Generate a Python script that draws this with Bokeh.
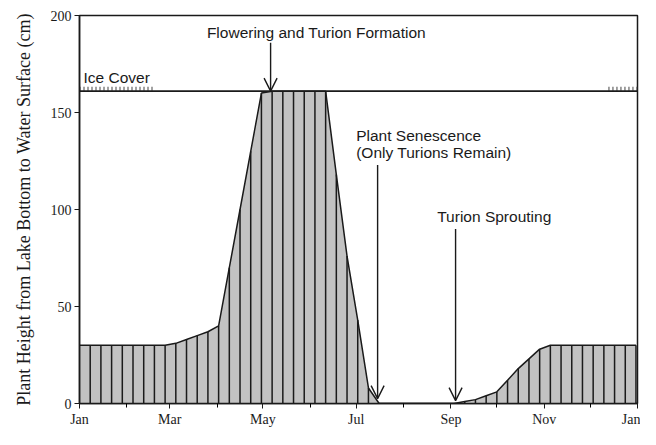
from bokeh.plotting import figure
from bokeh.models import FixedTicker, Span, Arrow, OpenHead, Label, ColumnDataSource
from bokeh.embed import file_html
from bokeh.resources import INLINE

# --- data (day of year, weekly samples) ---
days = [0, 7, 14, 21, 28, 35, 42, 49, 56, 63, 70, 77, 84, 91, 98, 105, 112, 119,
        126, 133, 140, 147, 154, 161, 168, 175, 182, 189, 196, 203, 210, 217, 224,
        231, 238, 245, 252, 259, 266, 273, 280, 287, 294, 301, 308, 315, 322, 329,
        336, 343, 350, 357, 364]
height_cm = [30, 30, 30, 30, 30, 30, 30, 30, 30, 31, 33, 35, 37, 40, 70, 100, 130, 160,
             161, 161, 161, 161, 161, 161, 118, 76, 43, 8, 0, 0, 0, 0, 0,
             0, 0, 0, 1, 2, 4, 6, 12, 18, 23, 28, 30, 30, 30, 30,
             30, 30, 30, 30, 30]

month_ticks = [0, 59, 120, 181, 243, 304, 365]
month_labels = ["Jan", "Mar", "May", "Jul", "Sep", "Nov", "Jan"]
minor_month_ticks = [31, 90, 151, 212, 273, 334]
y_ticks = [0, 50, 100, 150, 200]

ice_level = 161
ice_periods = [(0, 49), (346, 365)]

events = ["Flowering and Turion Formation", "Plant Senescence\n(Only Turions Remain)", "Turion Sprouting"]
event_day = [125, 195, 246]
arrow_top = [186, 123, 90]
arrow_bottom = [161, 2.5, 1.5]

p = figure(width=640, height=429, output_backend="svg", toolbar_location=None,
           x_range=(0, 365), y_range=(0, 200),
           min_border_left=79, min_border_right=3, min_border_top=15, min_border_bottom=22)

p.xgrid.visible = False
p.ygrid.visible = False
p.outline_line_color = "#1a1a1a"
p.outline_line_width = 1.5
p.background_fill_color = "white"

src = ColumnDataSource(dict(x=days, y=height_cm, y0=[0] * len(days)))
p.varea(x="x", y1="y0", y2="y", source=src, fill_color="#c2c2c2")
p.segment(x0="x", y0="y0", x1="x", y1="y", source=src, line_color="#1a1a1a", line_width=1.5)
p.line(x="x", y="y", source=src, line_color="#1a1a1a", line_width=1.5)

# ice cover
p.add_layout(Span(location=ice_level, dimension="width", line_color="#1a1a1a", line_width=1.6))
for a, b in ice_periods:
    p.line([a, b], [ice_level + 1.2, ice_level + 1.2], line_color="#444444",
           line_width=4, line_dash="1 3")
p.add_layout(Label(x=ice_periods[0][0], y=ice_level, text="Ice Cover", x_offset=4, y_offset=5,
                   text_font="Liberation Sans", text_font_size="15.5px", text_color="#1a1a1a"))

# event arrows and labels
for d, top, bot in zip(event_day, arrow_top, arrow_bottom):
    p.add_layout(Arrow(x_start=d, y_start=top, x_end=d, y_end=bot, line_color="#1a1a1a",
                       line_width=1.4, end=OpenHead(size=13, line_color="#1a1a1a", line_width=1.4)))

p.add_layout(Label(x=event_day[0] + 30, y=arrow_top[0] + 1, text=events[0], text_align="center",
                   text_font="Liberation Sans", text_font_size="15.5px", text_color="#1a1a1a"))
p.add_layout(Label(x=event_day[1] - 14, y=arrow_top[1] + 2, text=events[1], text_align="left",
                   text_font="Liberation Sans", text_font_size="15.5px", text_color="#1a1a1a",
                   text_line_height=1.0))
p.add_layout(Label(x=event_day[2] - 12, y=arrow_top[2] + 2, text=events[2], text_align="left",
                   text_font="Liberation Sans", text_font_size="15.5px", text_color="#1a1a1a"))

# axes
p.xaxis.ticker = FixedTicker(ticks=month_ticks, minor_ticks=minor_month_ticks)
p.xaxis.major_label_overrides = {t: l for t, l in zip(month_ticks, month_labels)}
p.yaxis.ticker = FixedTicker(ticks=y_ticks)
p.yaxis.minor_tick_line_color = None
for ax in (p.xaxis, p.yaxis):
    ax.axis_line_color = "#1a1a1a"
    ax.axis_line_width = 1.5
    ax.major_tick_line_color = "#1a1a1a"
    ax.major_tick_in = 0
    ax.major_tick_out = 5
    ax.minor_tick_in = 0
    ax.minor_tick_out = 4
    ax.major_label_text_font = "Liberation Serif"
    ax.major_label_text_font_size = "14px"
    ax.major_label_text_color = "#1a1a1a"
    ax.major_label_standoff = 3
p.yaxis.axis_label = "Plant Height from Lake Bottom to Water Surface (cm)"
p.yaxis.axis_label_text_font = "Liberation Serif"
p.yaxis.axis_label_text_font_style = "normal"
p.yaxis.axis_label_text_font_size = "18px"
p.yaxis.axis_label_text_color = "#1a1a1a"
p.yaxis.axis_label_standoff = 14

open("out.html", "w").write(file_html(p, INLINE))
